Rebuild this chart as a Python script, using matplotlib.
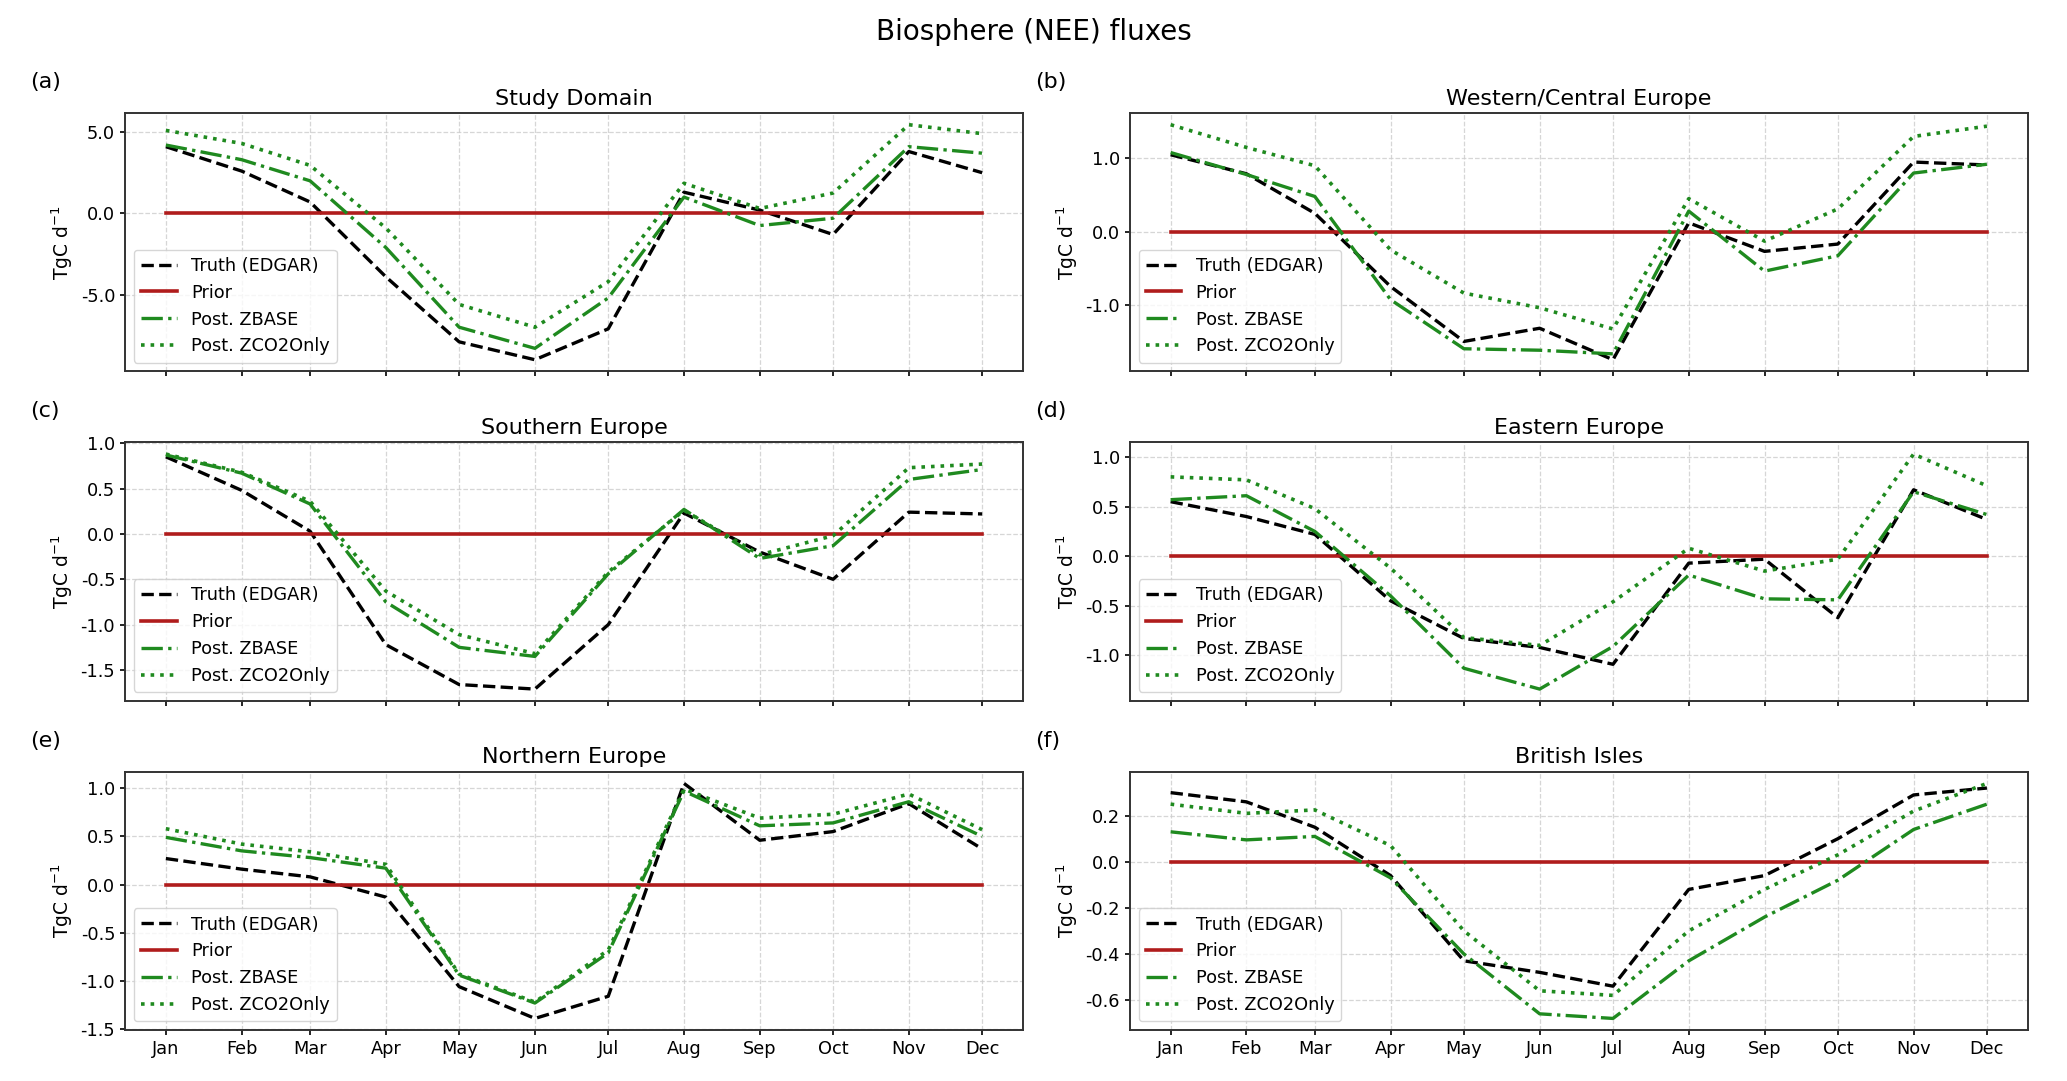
import numpy as np
import pandas as pd
import matplotlib
matplotlib.use("Agg")
import matplotlib.pyplot as plt
import matplotlib.dates as mdates
from matplotlib.ticker import MultipleLocator, FormatStrFormatter

# monthly fluxes, TgC/d (month starts)
months = pd.date_range("2018-01-01", periods=12, freq="MS")

regions = ["Study Domain", "Western/Central Europe", "Southern Europe",
           "Eastern Europe", "Northern Europe", "British Isles"]
letters = ["(a)", "(b)", "(c)", "(d)", "(e)", "(f)"]
ystep = [5.0, 1.0, 0.5, 0.5, 0.5, 0.2]

truth_study = [4.1, 2.6, 0.7, -3.9, -7.9, -9.0, -7.1, 1.3, 0.2, -1.3, 3.8, 2.5]
zbase_study = [4.2, 3.3, 2.0, -2.1, -7.0, -8.3, -5.2, 1.0, -0.75, -0.3, 4.1, 3.7]
zco2_study = [5.1, 4.3, 2.95, -0.9, -5.6, -7.0, -4.2, 1.85, 0.3, 1.25, 5.45, 4.9]

truth_west = [1.05, 0.79, 0.25, -0.75, -1.5, -1.32, -1.75, 0.12, -0.27, -0.17, 0.95, 0.91]
zbase_west = [1.08, 0.78, 0.48, -0.93, -1.6, -1.62, -1.67, 0.28, -0.54, -0.33, 0.8, 0.92]
zco2_west = [1.46, 1.15, 0.9, -0.25, -0.84, -1.04, -1.33, 0.45, -0.13, 0.31, 1.3, 1.44]

truth_south = [0.85, 0.48, 0.03, -1.22, -1.66, -1.71, -1.0, 0.23, -0.2, -0.5, 0.24, 0.22]
zbase_south = [0.87, 0.67, 0.33, -0.75, -1.25, -1.35, -0.44, 0.27, -0.27, -0.13, 0.6, 0.71]
zco2_south = [0.88, 0.68, 0.36, -0.63, -1.11, -1.32, -0.42, 0.26, -0.23, -0.02, 0.73, 0.77]

truth_east = [0.55, 0.4, 0.22, -0.45, -0.83, -0.92, -1.09, -0.07, -0.03, -0.62, 0.67, 0.37]
zbase_east = [0.57, 0.61, 0.25, -0.4, -1.13, -1.34, -0.91, -0.19, -0.43, -0.44, 0.65, 0.42]
zco2_east = [0.8, 0.77, 0.48, -0.12, -0.82, -0.9, -0.46, 0.08, -0.15, -0.03, 1.03, 0.71]

truth_north = [0.27, 0.16, 0.08, -0.13, -1.06, -1.39, -1.16, 1.05, 0.46, 0.55, 0.84, 0.37]
zbase_north = [0.49, 0.35, 0.28, 0.17, -0.94, -1.23, -0.71, 0.97, 0.61, 0.64, 0.86, 0.5]
zco2_north = [0.58, 0.42, 0.34, 0.21, -0.93, -1.22, -0.68, 0.99, 0.69, 0.73, 0.94, 0.57]

truth_brit = [0.3, 0.26, 0.15, -0.06, -0.43, -0.48, -0.54, -0.12, -0.06, 0.1, 0.29, 0.32]
zbase_brit = [0.13, 0.095, 0.11, -0.07, -0.4, -0.66, -0.68, -0.43, -0.24, -0.08, 0.14, 0.25]
zco2_brit = [0.25, 0.21, 0.225, 0.07, -0.3, -0.56, -0.58, -0.3, -0.12, 0.03, 0.22, 0.34]

truths = [truth_study, truth_west, truth_south, truth_east, truth_north, truth_brit]
zbases = [zbase_study, zbase_west, zbase_south, zbase_east, zbase_north, zbase_brit]
zco2s = [zco2_study, zco2_west, zco2_south, zco2_east, zco2_north, zco2_brit]

green = "#1f8a1f"

fig, axes = plt.subplots(3, 2, figsize=(20.67, 10.81), dpi=100, sharex=True)
fig.subplots_adjust(left=0.0605, right=0.981, top=0.8955, bottom=0.047,
                    wspace=0.119, hspace=0.274)

for i, ax in enumerate(axes.flat):
    prior = np.zeros(len(months))
    ax.plot(months, truths[i], color="black", ls="--", lw=2.4, label="Truth (EDGAR)")
    ax.plot(months, prior, color="#b01c1c", ls="-", lw=2.6, label="Prior")
    ax.plot(months, zbases[i], color=green, ls="-.", lw=2.4, label="Post. ZBASE")
    ax.plot(months, zco2s[i], color=green, ls=":", lw=2.6, label="Post. ZCO2Only")

    ax.set_title(regions[i], fontsize=16)
    ax.set_ylabel(r"TgC d$^{-1}$", fontsize=13.5)
    ax.yaxis.set_major_locator(MultipleLocator(ystep[i]))
    ax.yaxis.set_major_formatter(FormatStrFormatter("%.1f"))
    ax.set_xticks(months)
    ax.xaxis.set_major_formatter(mdates.DateFormatter("%b"))
    ax.tick_params(labelsize=12.8, length=3.6, width=1.2)
    ax.grid(True, ls="--", color="#cccccc", lw=0.9, alpha=0.8)
    for sp in ax.spines.values():
        sp.set_linewidth(1.4)
        sp.set_color("#333333")
    ax.legend(loc="lower left", fontsize=12.8)
    ax.text(-0.106, 1.12, letters[i], transform=ax.transAxes, fontsize=16,
            va="center", ha="left")

fig.suptitle("Biosphere (NEE) fluxes", fontsize=20, y=0.97, va="center")

plt.savefig("out.png", dpi=100)
plt.close()
